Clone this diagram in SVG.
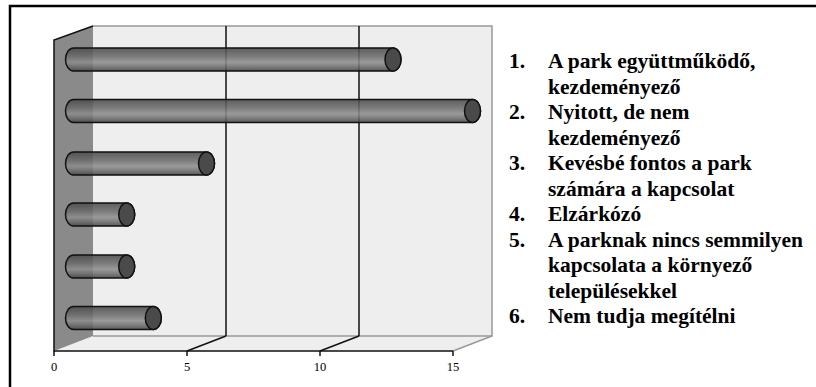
<svg xmlns="http://www.w3.org/2000/svg" width="816" height="387" viewBox="0 0 816 387">
<defs>
<linearGradient id="barGrad" x1="0" y1="0" x2="0" y2="1">
<stop offset="0" stop-color="#4a4a4a"/>
<stop offset="0.35" stop-color="#6a6a6a"/>
<stop offset="0.62" stop-color="#8e8e8e"/>
<stop offset="0.8" stop-color="#707070"/>
<stop offset="1" stop-color="#454545"/>
</linearGradient>
<style>
.bar{fill:url(#barGrad);fill-opacity:0.88;stroke:#111;stroke-width:1.5}
.cap{fill:#4a4a4a;stroke:#111;stroke-width:1.5}
.grid{stroke:#111;stroke-width:1.5;fill:none}
.edge{stroke:#999;stroke-width:1.5;fill:none}
.axis{stroke:#111;stroke-width:1.5;fill:none}
.tick{font-size:12.5px;fill:#000;text-anchor:middle}
.leg{font-size:21.5px;font-weight:bold;fill:#000}
</style>
</defs>
<rect x="0" y="0" width="816" height="387" fill="#fff"/>
<rect x="10" y="6" width="830" height="400" fill="none" stroke="#000" stroke-width="2.5"/>
<g id="chart-frame">
<polygon points="93,26 492,26 492,336 93,336" fill="#eeeeee"/>
<polygon points="54,351 93,336 492,336 453,351" fill="#eeeeee"/>
<polygon points="54,40 93,26 93,336 54,351" fill="#8a8a8a"/>
<polyline class="edge" points="93,26 492,26 492,336 93,336"/>
<line class="edge" x1="453" y1="351" x2="492" y2="336"/>
<line class="grid" x1="226" y1="26" x2="226" y2="336"/>
<line class="grid" x1="359" y1="26" x2="359" y2="336"/>
<line class="grid" x1="187" y1="351" x2="226" y2="336"/>
<line class="grid" x1="320" y1="351" x2="359" y2="336"/>
<polyline class="axis" points="93,26 54,40 54,351 453,351"/>
<g class="axis">
<line x1="54" y1="351" x2="54" y2="356"/>
<line x1="187" y1="351" x2="187" y2="356"/>
<line x1="320" y1="351" x2="320" y2="356"/>
<line x1="453" y1="351" x2="453" y2="356"/>
</g>
<g font-family="'Liberation Serif', 'Times New Roman', 'DejaVu Serif', serif">
<text class="tick" x="54" y="371">0</text>
<text class="tick" x="187" y="371">5</text>
<text class="tick" x="320" y="371">10</text>
<text class="tick" x="453" y="371">15</text>
</g>
</g>
<g id="bars">
<g id="bar1">
<path class="bar" d="M73.5,48 L393,48 A8,11.5 0 0 1 393,71 L73.5,71 A8,11.5 0 0 1 73.5,48 Z"/>
<ellipse class="cap" cx="393" cy="59.5" rx="8" ry="11.5"/>
</g>
<g id="bar2">
<path class="bar" d="M73.5,99.5 L472.5,99.5 A8,11.5 0 0 1 472.5,122.5 L73.5,122.5 A8,11.5 0 0 1 73.5,99.5 Z"/>
<ellipse class="cap" cx="472.5" cy="111" rx="8" ry="11.5"/>
</g>
<g id="bar3">
<path class="bar" d="M73.5,152 L206.5,152 A8,11.5 0 0 1 206.5,175 L73.5,175 A8,11.5 0 0 1 73.5,152 Z"/>
<ellipse class="cap" cx="206.5" cy="163.5" rx="8" ry="11.5"/>
</g>
<g id="bar4">
<path class="bar" d="M73.5,203 L126.7,203 A8,11.5 0 0 1 126.7,226 L73.5,226 A8,11.5 0 0 1 73.5,203 Z"/>
<ellipse class="cap" cx="126.7" cy="214.5" rx="8" ry="11.5"/>
</g>
<g id="bar5">
<path class="bar" d="M73.5,255 L126.7,255 A8,11.5 0 0 1 126.7,278 L73.5,278 A8,11.5 0 0 1 73.5,255 Z"/>
<ellipse class="cap" cx="126.7" cy="266.5" rx="8" ry="11.5"/>
</g>
<g id="bar6">
<path class="bar" d="M73.5,306.5 L153.3,306.5 A8,11.5 0 0 1 153.3,329.5 L73.5,329.5 A8,11.5 0 0 1 73.5,306.5 Z"/>
<ellipse class="cap" cx="153.3" cy="318" rx="8" ry="11.5"/>
</g>
</g>
<g id="legend" class="leg" font-family="'Liberation Serif', 'Times New Roman', 'DejaVu Serif', serif">
<text x="509" y="68">1.</text><text x="548" y="68">A park együttműködő,</text>
<text x="548" y="93.5">kezdeményező</text>
<text x="509" y="119">2.</text><text x="548" y="119">Nyitott, de nem</text>
<text x="548" y="144.5">kezdeményező</text>
<text x="509" y="170">3.</text><text x="548" y="170">Kevésbé fontos a park</text>
<text x="548" y="195.5">számára a kapcsolat</text>
<text x="509" y="221">4.</text><text x="548" y="221">Elzárkózó</text>
<text x="509" y="246.5">5.</text><text x="548" y="246.5">A parknak nincs semmilyen</text>
<text x="548" y="272">kapcsolata a környező</text>
<text x="548" y="297.5">településekkel</text>
<text x="509" y="323">6.</text><text x="548" y="323">Nem tudja megítélni</text>
</g>
</svg>
